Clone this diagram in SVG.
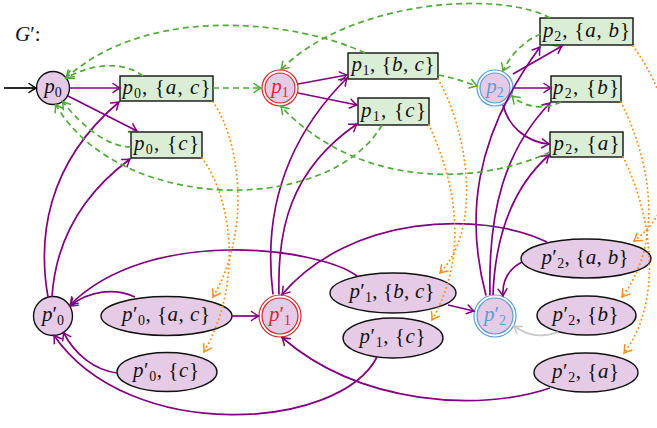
<svg xmlns="http://www.w3.org/2000/svg" width="657" height="428" viewBox="0 0 657 428">
<style>
.t{font-family:"Liberation Serif","DejaVu Serif",serif;font-style:italic;font-size:21px;fill:#111}
.r{font-style:normal}
.s{font-style:normal;font-size:14px}
.rect{fill:#daeed5;stroke:#111;stroke-width:1.4}
.ell{fill:#e6cbe6;stroke:#111;stroke-width:1.4}
.pur{fill:none;stroke:#800080;stroke-width:1.7;marker-end:url(#ap)}
.grn{fill:none;stroke:#52aa3a;stroke-width:1.7;stroke-dasharray:6 4;marker-end:url(#ag)}
.org{fill:none;stroke:#ff8c1a;stroke-width:2;stroke-dasharray:0 4.3;stroke-linecap:round;marker-end:url(#ao)}
.gry{fill:none;stroke:#c8c8c8;stroke-width:1.7;marker-end:url(#ay)}
.blk{fill:none;stroke:#000;stroke-width:1.7;marker-end:url(#ab)}
</style>
<defs>
<marker id="ap" viewBox="-10 -6 12 12" refX="0" refY="0" markerWidth="12" markerHeight="12" markerUnits="userSpaceOnUse" orient="auto"><path d="M-7,-4.5 Q-2,-1 0,0 Q-2,1 -7,4.5" fill="none" stroke="#800080" stroke-width="1.5" stroke-linecap="round"/></marker>
<marker id="ag" viewBox="-10 -6 12 12" refX="0" refY="0" markerWidth="12" markerHeight="12" markerUnits="userSpaceOnUse" orient="auto"><path d="M-7,-4.5 Q-2,-1 0,0 Q-2,1 -7,4.5" fill="none" stroke="#52aa3a" stroke-width="1.5" stroke-linecap="round"/></marker>
<marker id="ao" viewBox="-10 -6 12 12" refX="0" refY="0" markerWidth="12" markerHeight="12" markerUnits="userSpaceOnUse" orient="auto"><path d="M-7,-4.5 Q-2,-1 0,0 Q-2,1 -7,4.5" fill="none" stroke="#ff8c1a" stroke-width="1.5" stroke-linecap="round"/></marker>
<marker id="ay" viewBox="-10 -6 12 12" refX="0" refY="0" markerWidth="12" markerHeight="12" markerUnits="userSpaceOnUse" orient="auto"><path d="M-7,-4.5 Q-2,-1 0,0 Q-2,1 -7,4.5" fill="none" stroke="#c8c8c8" stroke-width="1.5" stroke-linecap="round"/></marker>
<marker id="ab" viewBox="-10 -6 12 12" refX="0" refY="0" markerWidth="12" markerHeight="12" markerUnits="userSpaceOnUse" orient="auto"><path d="M-7,-4.5 Q-2,-1 0,0 Q-2,1 -7,4.5" fill="none" stroke="#000" stroke-width="1.5" stroke-linecap="round"/></marker>
</defs>
<rect width="657" height="428" fill="#fff"/>
<text class="t" x="15" y="41">G<tspan class="r">′:</tspan></text>

<g id="p0"><circle cx="53" cy="88" r="16.5" class="ell"/><text class="t" x="53" y="93" text-anchor="middle">p<tspan class="s" dy="4">0</tspan></text></g>
<g id="p0ac"><rect x="120" y="76" width="93" height="25" class="rect"/><text class="t" x="166.5" y="94" text-anchor="middle" textLength="88">p<tspan class="s" dy="4">0</tspan><tspan class="r" dy="-4">, {</tspan>a<tspan class="r">, </tspan>c<tspan class="r">}</tspan></text></g>
<g id="p0c"><rect x="131" y="132" width="71" height="26" class="rect"/><text class="t" x="166.5" y="150" text-anchor="middle" textLength="65">p<tspan class="s" dy="4">0</tspan><tspan class="r" dy="-4">, {</tspan>c<tspan class="r">}</tspan></text></g>
<g id="p1"><circle cx="280" cy="88" r="16.5" fill="#e6cbe6" stroke="#d42a2a" stroke-width="4.2"/><circle cx="280" cy="88" r="16.5" fill="none" stroke="#fff" stroke-width="1.8"/><text class="t" x="280" y="93" text-anchor="middle" style="fill:#d42a2a">p<tspan class="s" dy="4">1</tspan></text></g>
<g id="p1bc"><rect x="348" y="53" width="90" height="26" class="rect"/><text class="t" x="393" y="71" text-anchor="middle" textLength="83">p<tspan class="s" dy="4">1</tspan><tspan class="r" dy="-4">, {</tspan>b<tspan class="r">, </tspan>c<tspan class="r">}</tspan></text></g>
<g id="p1c"><rect x="358" y="98" width="71" height="27" class="rect"/><text class="t" x="393.5" y="117" text-anchor="middle" textLength="65">p<tspan class="s" dy="4">1</tspan><tspan class="r" dy="-4">, {</tspan>c<tspan class="r">}</tspan></text></g>
<g id="p2"><circle cx="495" cy="88" r="16.5" fill="#e6cbe6" stroke="#5b9bd5" stroke-width="4.2"/><circle cx="495" cy="88" r="16.5" fill="none" stroke="#fff" stroke-width="1.8"/><text class="t" x="495" y="93" text-anchor="middle" style="fill:#5b9bd5">p<tspan class="s" dy="4">2</tspan></text></g>
<g id="p2ab"><rect x="540" y="18" width="93" height="27" class="rect"/><text class="t" x="586.5" y="37" text-anchor="middle" textLength="87">p<tspan class="s" dy="4">2</tspan><tspan class="r" dy="-4">, {</tspan>a<tspan class="r">, </tspan>b<tspan class="r">}</tspan></text></g>
<g id="p2b"><rect x="551" y="76" width="70" height="26" class="rect"/><text class="t" x="586" y="94" text-anchor="middle" textLength="66">p<tspan class="s" dy="4">2</tspan><tspan class="r" dy="-4">, {</tspan>b<tspan class="r">}</tspan></text></g>
<g id="p2a"><rect x="550" y="132" width="73" height="25" class="rect"/><text class="t" x="586.5" y="150" text-anchor="middle" textLength="66">p<tspan class="s" dy="4">2</tspan><tspan class="r" dy="-4">, {</tspan>a<tspan class="r">}</tspan></text></g>

<g id="q0"><circle cx="53" cy="316" r="19.5" class="ell"/><text class="t" x="53" y="321" text-anchor="middle">p<tspan class="r">′</tspan><tspan class="s" dy="4">0</tspan></text></g>
<g id="q0ac"><ellipse cx="166.5" cy="316" rx="65.5" ry="19.5" class="ell"/><text class="t" x="166" y="321" text-anchor="middle" textLength="88">p<tspan class="r">′</tspan><tspan class="s" dy="4">0</tspan><tspan class="r" dy="-4">, {</tspan>a<tspan class="r">, </tspan>c<tspan class="r">}</tspan></text></g>
<g id="q0c"><ellipse cx="167" cy="372" rx="50" ry="19.5" class="ell"/><text class="t" x="166" y="377" text-anchor="middle" textLength="66">p<tspan class="r">′</tspan><tspan class="s" dy="4">0</tspan><tspan class="r" dy="-4">, {</tspan>c<tspan class="r">}</tspan></text></g>
<g id="q1"><circle cx="280" cy="316" r="19.5" fill="#e6cbe6" stroke="#d42a2a" stroke-width="4.2"/><circle cx="280" cy="316" r="19.5" fill="none" stroke="#fff" stroke-width="1.8"/><text class="t" x="280" y="321" text-anchor="middle" style="fill:#d42a2a">p<tspan class="r">′</tspan><tspan class="s" dy="4">1</tspan></text></g>
<g id="q1bc"><ellipse cx="393" cy="293" rx="63" ry="20" class="ell"/><text class="t" x="392" y="298" text-anchor="middle" textLength="85">p<tspan class="r">′</tspan><tspan class="s" dy="4">1</tspan><tspan class="r" dy="-4">, {</tspan>b<tspan class="r">, </tspan>c<tspan class="r">}</tspan></text></g>
<g id="q1c"><ellipse cx="393" cy="338" rx="50" ry="20" class="ell"/><text class="t" x="392.5" y="343" text-anchor="middle" textLength="66">p<tspan class="r">′</tspan><tspan class="s" dy="4">1</tspan><tspan class="r" dy="-4">, {</tspan>c<tspan class="r">}</tspan></text></g>
<g id="q2"><circle cx="495" cy="316" r="19.5" fill="#e6cbe6" stroke="#5b9bd5" stroke-width="4.2"/><circle cx="495" cy="316" r="19.5" fill="none" stroke="#fff" stroke-width="1.8"/><text class="t" x="495" y="321" text-anchor="middle" style="fill:#5b9bd5">p<tspan class="r">′</tspan><tspan class="s" dy="4">2</tspan></text></g>
<g id="q2ab"><ellipse cx="586" cy="258.5" rx="65" ry="19.5" class="ell"/><text class="t" x="585" y="263.5" text-anchor="middle" textLength="87">p<tspan class="r">′</tspan><tspan class="s" dy="4">2</tspan><tspan class="r" dy="-4">, {</tspan>a<tspan class="r">, </tspan>b<tspan class="r">}</tspan></text></g>
<g id="q2b"><ellipse cx="586.5" cy="315.5" rx="49.5" ry="19.5" class="ell"/><text class="t" x="585.5" y="320.5" text-anchor="middle" textLength="66">p<tspan class="r">′</tspan><tspan class="s" dy="4">2</tspan><tspan class="r" dy="-4">, {</tspan>b<tspan class="r">}</tspan></text></g>
<g id="q2a"><ellipse cx="586" cy="372.5" rx="52" ry="19.5" class="ell"/><text class="t" x="585.5" y="377.5" text-anchor="middle" textLength="67">p<tspan class="r">′</tspan><tspan class="s" dy="4">2</tspan><tspan class="r" dy="-4">, {</tspan>a<tspan class="r">}</tspan></text></g>

<g id="connectors">
<path class="blk" d="M4,88 L36,88"/>
<path class="pur" d="M69.5,88 L120,88"/>
<path class="pur" d="M68,96 L137,131"/>
<path class="pur" d="M298,84 L347,75"/>
<path class="pur" d="M298,93 L357,105"/>
<path class="pur" d="M513,74 L562,46"/>
<path class="pur" d="M513.5,88 L551,88"/>
<path class="pur" d="M503,105 C508,125 525,142 549,144"/>
<path class="pur" d="M48,297 C38,240 45,165 119,102"/>
<path class="pur" d="M52,297 C55,250 75,200 130,159"/>
<path class="pur" d="M273,294.5 C265,230 275,150 347,78"/>
<path class="pur" d="M279,294.5 C277,230 290,170 357,124"/>
<path class="pur" d="M486,295.5 C466,220 472,140 540,47"/>
<path class="pur" d="M490,295 C488,210 505,150 550,103"/>
<path class="pur" d="M493,295 C495,240 510,190 549,155"/>
<path class="pur" d="M135,297 C115,288 90,290 70,306"/>
<path class="pur" d="M232,316 L258.5,316"/>
<path class="pur" d="M117,373 C95,370 75,355 63.5,332.5"/>
<path class="pur" d="M377,357 C340,430 130,445 54,335.5"/>
<path class="pur" d="M357,276 C320,248 150,225 70,305"/>
<path class="pur" d="M448,305 L474,311"/>
<path class="pur" d="M547,242 C480,210 350,215 282,294.5"/>
<path class="pur" d="M550,388 C480,412 360,405 282,337.5"/>
<path class="pur" d="M522,262 C507,270 502,282 503,296"/>
<path class="gry" d="M558,332 C545,337 530,338 514,326"/>
<path class="grn" d="M213,88 L261,88"/>
<path class="grn" d="M438,75 C455,78 465,82 477,86"/>
<path class="grn" d="M143,76 C125,62 95,62 66,78"/>
<path class="grn" d="M365,53 C300,22 150,2 66,78"/>
<path class="grn" d="M131,147 C110,147 85,130 62.5,101.5"/>
<path class="grn" d="M382,125 C330,215 120,215 55.5,104.5"/>
<path class="grn" d="M550,18 C500,-10 350,0 281,69.5"/>
<path class="grn" d="M541,34 C525,40 510,55 503,71"/>
<path class="grn" d="M561,102 C545,110 525,108 512,96"/>
<path class="grn" d="M550,152 C480,185 360,190 281,106.5"/>
<path class="org" d="M213,102 C240,140 252,230 213,297"/>
<path class="org" d="M202,158 C230,195 245,280 204,352"/>
<path class="org" d="M438,79 C465,125 485,225 440,273"/>
<path class="org" d="M429,125 C452,175 472,250 432,320"/>
<path class="org" d="M633,46 C680,110 690,200 634,241"/>
<path class="org" d="M621,102 C650,160 665,240 622,297"/>
<path class="org" d="M623,157 C650,210 665,300 624,353"/>
</g>
</svg>
